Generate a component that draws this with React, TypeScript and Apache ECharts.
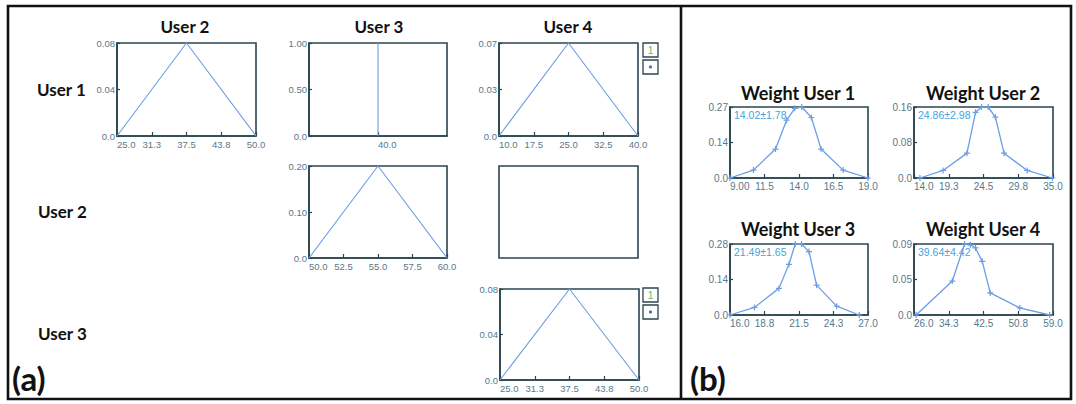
import React, { useEffect, useRef } from "react";
import * as echarts from "echarts";

// ---------- texts ----------
const columnTitles = ["User 2", "User 3", "User 4"];
const rowTitles = ["User 1", "User 2", "User 3"];
const weightTitles = ["Weight User 1", "Weight User 2", "Weight User 3", "Weight User 4"];
const weightStats = ["14.02±1.78", "24.86±2.98", "21.49±1.65", "39.64±4.42"];
const panelLetters = ["(a)", "(b)"];

// ---------- pair charts (panel a) ----------
const u1u2XTicks = [25.0, 31.25, 37.5, 43.75, 50.0];
const u1u2XLabels = ["25.0", "31.3", "37.5", "43.8", "50.0"];
const u1u2YTicks = [0, 0.04, 0.08];
const u1u2YLabels = ["0.0", "0.04", "0.08"];
const u1u2Data = [[25, 0], [37.5, 0.08], [50, 0]];

const u1u3XTicks = [40.0];
const u1u3XLabels = ["40.0"];
const u1u3YTicks = [0, 0.5, 1.0];
const u1u3YLabels = ["0.0", "0.50", "1.00"];
const u1u3Data = [[40, 0], [40, 1]];

const u1u4XTicks = [10.0, 17.5, 25.0, 32.5, 40.0];
const u1u4XLabels = ["10.0", "17.5", "25.0", "32.5", "40.0"];
const u1u4YTicks = [0, 0.035, 0.07];
const u1u4YLabels = ["0.0", "0.03", "0.07"];
const u1u4Data = [[10, 0], [25, 0.07], [40, 0]];

const u2u3XTicks = [50.0, 52.5, 55.0, 57.5, 60.0];
const u2u3XLabels = ["50.0", "52.5", "55.0", "57.5", "60.0"];
const u2u3YTicks = [0, 0.1, 0.2];
const u2u3YLabels = ["0.0", "0.10", "0.20"];
const u2u3Data = [[50, 0], [55, 0.2], [60, 0]];

const u3u4XTicks = [25.0, 31.25, 37.5, 43.75, 50.0];
const u3u4XLabels = ["25.0", "31.3", "37.5", "43.8", "50.0"];
const u3u4YTicks = [0, 0.04, 0.08];
const u3u4YLabels = ["0.0", "0.04", "0.08"];
const u3u4Data = [[25, 0], [37.5, 0.08], [50, 0]];

// ---------- weight charts (panel b) ----------
const w1XTicks = [9.0, 11.5, 14.0, 16.5, 19.0];
const w1XLabels = ["9.00", "11.5", "14.0", "16.5", "19.0"];
const w1YTicks = [0, 0.135, 0.27];
const w1YLabels = ["0.0", "0.14", "0.27"];
const w1Data = [[9, 0], [10.7, 0.03], [12.3, 0.11], [13.1, 0.22], [13.7, 0.265], [14.2, 0.27], [14.9, 0.23], [15.6, 0.11], [17.2, 0.03], [19, 0]];

const w2XTicks = [14.0, 19.25, 24.5, 29.75, 35.0];
const w2XLabels = ["14.0", "19.3", "24.5", "29.8", "35.0"];
const w2YTicks = [0, 0.08, 0.16];
const w2YLabels = ["0.0", "0.08", "0.16"];
const w2Data = [[14.9, 0], [18.4, 0.017], [22.0, 0.056], [23.3, 0.148], [24.2, 0.16], [25.2, 0.16], [26.3, 0.137], [27.6, 0.056], [31.1, 0.017], [34.9, 0]];

const w3XTicks = [16.0, 18.75, 21.5, 24.25, 27.0];
const w3XLabels = ["16.0", "18.8", "21.5", "24.3", "27.0"];
const w3YTicks = [0, 0.14, 0.28];
const w3YLabels = ["0.0", "0.14", "0.28"];
const w3Data = [[16, 0], [17.95, 0.03], [19.9, 0.105], [20.7, 0.2], [21.2, 0.28], [21.7, 0.28], [22.3, 0.25], [22.9, 0.118], [24.5, 0.035], [26.3, 0]];

const w4XTicks = [26.0, 34.25, 42.5, 50.75, 59.0];
const w4XLabels = ["26.0", "34.3", "42.5", "50.8", "59.0"];
const w4YTicks = [0, 0.045, 0.09];
const w4YLabels = ["0.0", "0.05", "0.09"];
const w4Data = [[26.5, 0], [35.1, 0.043], [38.0, 0.09], [39.4, 0.089], [40.6, 0.085], [42.2, 0.068], [44.1, 0.028], [51.1, 0.009], [58.2, 0]];

// ---------- styles ----------
const BORDER = "#2a454f";
const LABEL = "#56798a";
const LINE = "#6c9de4";
const STAT = "#45a3de";
const TITLE_FONT = "Lato, 'Open Sans', sans-serif";
const TICK_FONT = "'Liberation Sans', Arial, sans-serif";
const PLUS = "path://M4,0H6V4H10V6H6V10H4V6H0V4H4Z";

type Panel = {
  rect: [number, number, number, number];
  xTicks?: number[];
  xLabels?: string[];
  yTicks?: number[];
  yLabels?: string[];
  xMin: number;
  xMax: number;
  data?: number[][];
  markers?: boolean;
  empty?: boolean;
};

const panels: Panel[] = [
  { rect: [117, 43, 139, 93], xTicks: u1u2XTicks, xLabels: u1u2XLabels, yTicks: u1u2YTicks, yLabels: u1u2YLabels, xMin: 25, xMax: 50, data: u1u2Data },
  { rect: [309, 43, 138, 93], xTicks: u1u3XTicks, xLabels: u1u3XLabels, yTicks: u1u3YTicks, yLabels: u1u3YLabels, xMin: 39, xMax: 41, data: u1u3Data },
  { rect: [499, 43, 139, 93], xTicks: u1u4XTicks, xLabels: u1u4XLabels, yTicks: u1u4YTicks, yLabels: u1u4YLabels, xMin: 10, xMax: 40, data: u1u4Data },
  { rect: [309, 166, 138, 92], xTicks: u2u3XTicks, xLabels: u2u3XLabels, yTicks: u2u3YTicks, yLabels: u2u3YLabels, xMin: 50, xMax: 60, data: u2u3Data },
  { rect: [499, 166, 139, 92], xMin: 0, xMax: 1, empty: true },
  { rect: [500, 289, 139, 91], xTicks: u3u4XTicks, xLabels: u3u4XLabels, yTicks: u3u4YTicks, yLabels: u3u4YLabels, xMin: 25, xMax: 50, data: u3u4Data },
  { rect: [730, 107, 138, 71], xTicks: w1XTicks, xLabels: w1XLabels, yTicks: w1YTicks, yLabels: w1YLabels, xMin: 9, xMax: 19, data: w1Data, markers: true },
  { rect: [914, 107, 139, 71], xTicks: w2XTicks, xLabels: w2XLabels, yTicks: w2YTicks, yLabels: w2YLabels, xMin: 14, xMax: 35, data: w2Data, markers: true },
  { rect: [730, 244, 138, 71], xTicks: w3XTicks, xLabels: w3XLabels, yTicks: w3YTicks, yLabels: w3YLabels, xMin: 16, xMax: 27, data: w3Data, markers: true },
  { rect: [914, 244, 139, 71], xTicks: w4XTicks, xLabels: w4XLabels, yTicks: w4YTicks, yLabels: w4YLabels, xMin: 26, xMax: 59, data: w4Data, markers: true },
];

function labelFor(ticks: number[], labels: string[]) {
  return (v: number) => {
    let best = 0;
    for (let i = 1; i < ticks.length; i++) {
      if (Math.abs(ticks[i] - v) < Math.abs(ticks[best] - v)) best = i;
    }
    return labels[best];
  };
}

function txt(text: string, x: number, y: number, size: number, opts: any = {}) {
  return {
    type: "text",
    x,
    y,
    silent: true,
    style: {
      text,
      fontSize: size,
      fontFamily: opts.family || TITLE_FONT,
      fontWeight: opts.weight || "bold",
      fill: opts.fill || "#111111",
      textAlign: opts.align || "center",
      textVerticalAlign: "middle",
    },
  };
}

function legendBoxes(x: number, y: number) {
  return [
    { type: "rect", shape: { x, y, width: 15, height: 14 }, style: { fill: "#ffffff", stroke: BORDER, lineWidth: 1.3 } },
    txt("1", x + 7.5, y + 7.5, 10, { family: TICK_FONT, weight: "normal", fill: "#4fbf6a" }),
    { type: "rect", shape: { x, y: y + 17, width: 15, height: 14 }, style: { fill: "#ffffff", stroke: BORDER, lineWidth: 1.3 } },
    { type: "circle", shape: { cx: x + 7.5, cy: y + 24, r: 1.6 }, style: { fill: "#3b6fd6" } },
  ];
}

export default function App() {
  const ref = useRef<HTMLDivElement>(null);
  useEffect(() => {
    document.body.style.margin = "0";
    const chart = echarts.init(ref.current!, undefined, { renderer: "svg" });
    const grid: any[] = [];
    const xAxis: any[] = [];
    const yAxis: any[] = [];
    const series: any[] = [];
    panels.forEach((p, i) => {
      const [l, t, w, h] = p.rect;
      grid.push({ left: l, top: t, width: w, height: h, show: true, borderColor: BORDER, borderWidth: 1.6, backgroundColor: "#ffffff" });
      if (p.empty) {
        xAxis.push({ type: "value", gridIndex: i, show: false, min: 0, max: 1 });
        yAxis.push({ type: "value", gridIndex: i, show: false, min: 0, max: 1 });
        return;
      }
      const yMax = p.yTicks![p.yTicks!.length - 1];
      xAxis.push({
        type: "value",
        gridIndex: i,
        min: p.xMin,
        max: p.xMax,
        splitLine: { show: false },
        axisLine: { show: true, onZero: false, lineStyle: { color: BORDER, width: 1.6 } },
        axisTick: { show: true, inside: true, length: 4, customValues: p.xTicks, lineStyle: { color: BORDER, width: 1.2 } },
        axisLabel: {
          customValues: p.xTicks,
          formatter: labelFor(p.xTicks!, p.xLabels!),
          fontSize: p.markers ? 10 : 9.5,
          fontFamily: TICK_FONT,
          color: LABEL,
          margin: 3,
          alignMinLabel: "left",
        },
      });
      yAxis.push({
        type: "value",
        gridIndex: i,
        min: 0,
        max: yMax,
        splitLine: { show: false },
        axisLine: { show: true, onZero: false, lineStyle: { color: BORDER, width: 1.6 } },
        axisTick: { show: true, inside: true, length: 3, customValues: p.yTicks, lineStyle: { color: BORDER, width: 1.2 } },
        axisLabel: {
          customValues: p.yTicks,
          formatter: labelFor(p.yTicks!, p.yLabels!),
          fontSize: p.markers ? 10 : 9.5,
          fontFamily: TICK_FONT,
          color: LABEL,
          margin: 2,
        },
      });
      series.push({
        type: "line",
        xAxisIndex: i,
        yAxisIndex: i,
        data: p.data,
        showSymbol: !!p.markers,
        symbol: PLUS,
        symbolSize: 6,
        itemStyle: { color: LINE },
        lineStyle: { color: LINE, width: p.markers ? 1.3 : 1.1 },
        clip: false,
        silent: true,
      });
    });

    const graphic: any[] = [
      { type: "rect", shape: { x: 8, y: 6, width: 1063, height: 393 }, style: { fill: "none", stroke: "#111111", lineWidth: 2.6 } },
      { type: "line", shape: { x1: 681, y1: 6, x2: 681, y2: 399 }, style: { stroke: "#111111", lineWidth: 2.6 } },
      txt(columnTitles[0], 185, 26, 17),
      txt(columnTitles[1], 379, 26, 17),
      txt(columnTitles[2], 568, 26, 17),
      txt(rowTitles[0], 37, 89, 17, { align: "left" }),
      txt(rowTitles[1], 38, 211, 17, { align: "left" }),
      txt(rowTitles[2], 38, 333, 17, { align: "left" }),
      txt(panelLetters[0], 12, 378, 33, { align: "left" }),
      txt(panelLetters[1], 690, 378, 33, { align: "left" }),
      txt(weightTitles[0], 798, 93, 18),
      txt(weightTitles[1], 983, 93, 18),
      txt(weightTitles[2], 798, 229, 18),
      txt(weightTitles[3], 983, 229, 18),
      txt(weightStats[0], 734, 115, 10.5, { align: "left", family: TICK_FONT, weight: "normal", fill: STAT }),
      txt(weightStats[1], 918, 115, 10.5, { align: "left", family: TICK_FONT, weight: "normal", fill: STAT }),
      txt(weightStats[2], 734, 252, 10.5, { align: "left", family: TICK_FONT, weight: "normal", fill: STAT }),
      txt(weightStats[3], 918, 252, 10.5, { align: "left", family: TICK_FONT, weight: "normal", fill: STAT }),
      ...legendBoxes(643, 43),
      ...legendBoxes(643, 288),
    ];

    chart.setOption({
      animation: false,
      backgroundColor: "#ffffff",
      grid,
      xAxis,
      yAxis,
      series,
      graphic: { elements: graphic },
    });
    return () => chart.dispose();
  }, []);
  return <div ref={ref} style={{ width: 1076, height: 404, position: "absolute", left: 0, top: 0 }} />;
}
